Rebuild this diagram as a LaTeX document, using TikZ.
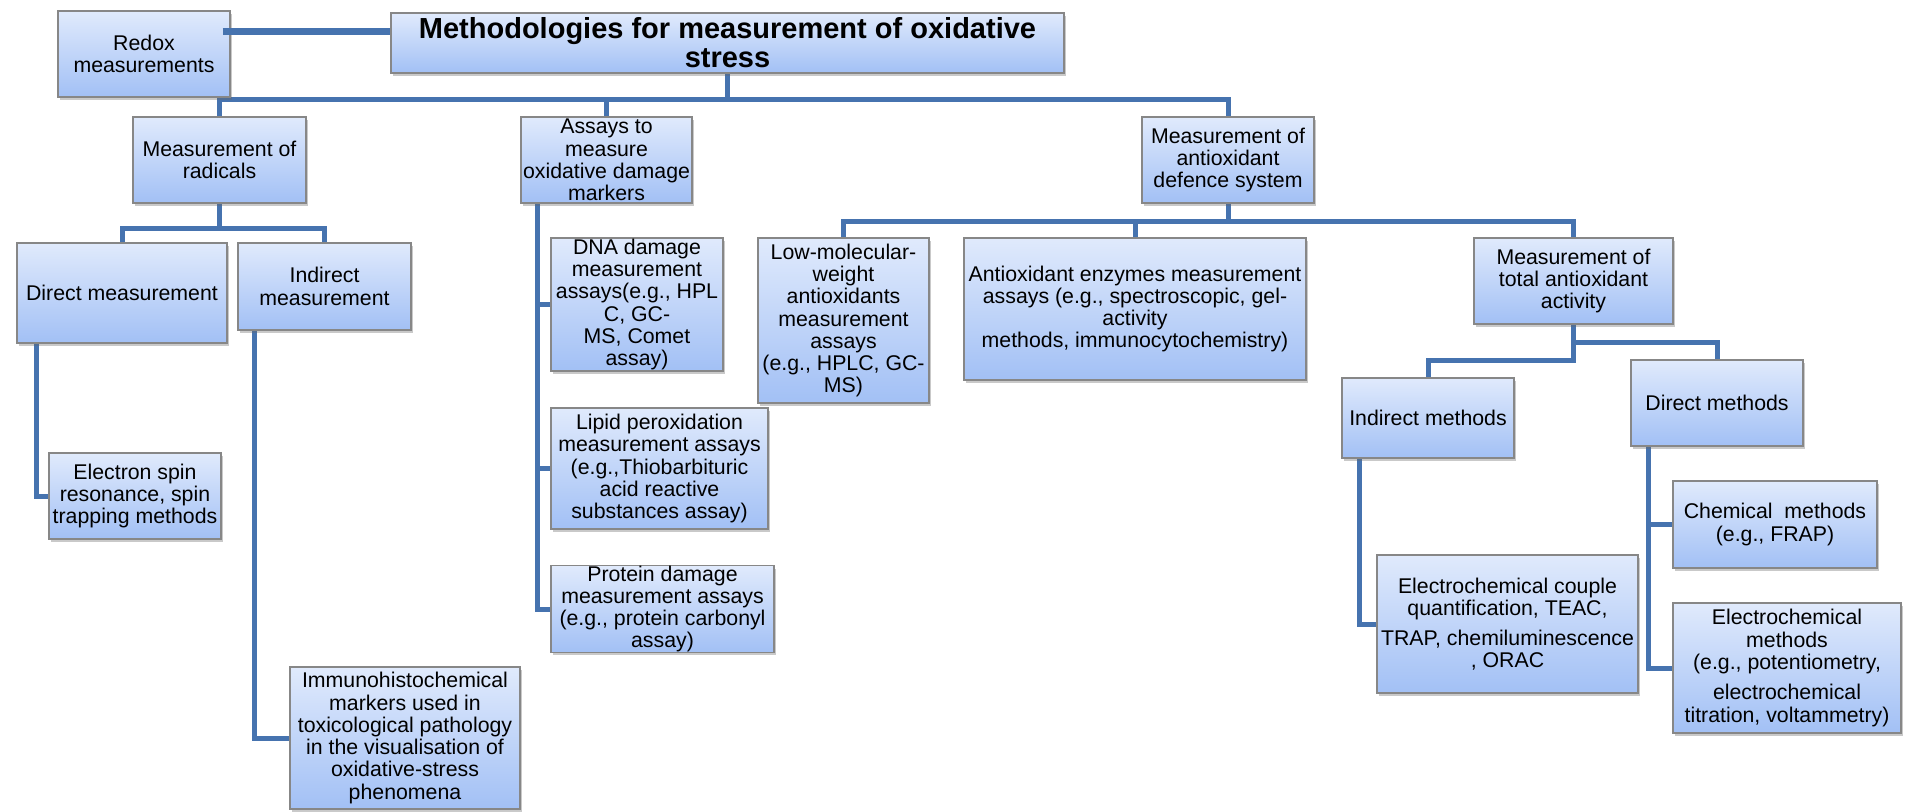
\documentclass[tikz,border=0pt]{standalone}
\usepackage{fontspec}
\setmainfont{Liberation Sans}
\usetikzlibrary{shadows,backgrounds}
\definecolor{linkblue}{RGB}{70,115,175}
\definecolor{boxtop}{RGB}{224,234,252}
\definecolor{boxbot}{RGB}{162,192,245}
\definecolor{boxline}{RGB}{135,135,135}
\begin{document}
\begin{tikzpicture}[x=1pt,y=-1pt,
  box/.style={draw=boxline, line width=1.2pt, top color=boxtop, bottom color=boxbot,
    inner sep=0pt, align=center, font=\fontsize{21.3}{22.3}\selectfont,
    drop shadow={shadow xshift=2pt, shadow yshift=-3pt, opacity=0.35, fill=black!60}},
  link/.style={draw=linkblue, line width=5pt}]
\useasboundingbox (0,0) rectangle (1905,811);

\node[box, minimum width=172pt, minimum height=86pt] (redox) at (144,54) {Redox\\measurements};
\node[box, font=\fontsize{29}{29}\selectfont\bfseries, minimum width=673pt, minimum height=60pt] (title) at (727.5,43) {Methodologies for measurement of oxidative\\stress};
\node[box, minimum width=173pt, minimum height=86pt] (radicals) at (219.5,160) {Measurement of\\radicals};
\node[box, minimum width=171pt, minimum height=86pt] (assays) at (606.5,160) {Assays to\\measure\\oxidative damage\\markers};
\node[box, minimum width=172pt, minimum height=86pt] (antiox) at (1228,160) {Measurement of\\antioxidant\\defence system};
\node[box, minimum width=210pt, minimum height=100pt] (direct) at (122,293) {Direct measurement};
\node[box, minimum width=173pt, minimum height=87pt] (indirect) at (324.5,286.5) {Indirect\\measurement};
\node[box, minimum width=172pt, minimum height=86pt] (electron) at (135,496) {Electron spin\\resonance, spin\\trapping methods};
\node[box, minimum width=230pt, minimum height=142pt] (immuno) at (405,738) {Immunohistochemical\\markers used in\\toxicological pathology\\in the visualisation of\\oxidative-stress\\phenomena};
\node[box, minimum width=172pt, minimum height=133pt] (dna) at (637,304.5) {DNA damage\\measurement\\assays(e.g., HPL\\C, GC-\\MS, Comet\\assay)};
\node[box, minimum width=217pt, minimum height=121pt] (lipid) at (659.5,468.5) {Lipid peroxidation\\measurement assays\\(e.g.,Thiobarbituric\\acid reactive\\substances assay)};
\node[box, minimum width=223pt, minimum height=86pt] (protein) at (662.5,609) {Protein damage\\measurement assays\\(e.g., protein carbonyl\\assay)};
\node[box, minimum width=171pt, minimum height=165pt] (lowmol) at (843.5,320.5) {Low-molecular-\\weight\\antioxidants\\measurement\\assays\\(e.g., HPLC, GC-\\MS)};
\node[box, minimum width=342pt, minimum height=142pt] (enz) at (1135,309) {Antioxidant enzymes measurement\\assays (e.g., spectroscopic, gel-\\activity\\methods, immunocytochemistry)};
\node[box, minimum width=199pt, minimum height=86pt] (total) at (1573.5,281) {Measurement of\\total antioxidant\\activity};
\node[box, minimum width=172pt, minimum height=80pt] (indm) at (1428,418) {Indirect methods};
\node[box, minimum width=172pt, minimum height=86pt] (dirm) at (1717,403) {Direct methods};
\node[box, minimum width=261pt, minimum height=138pt] (ecouple) at (1507.5,624) {Electrochemical couple\\quantification, TEAC,\\[7pt]TRAP, chemiluminescence\\, ORAC};
\node[box, minimum width=204pt, minimum height=87pt] (chem) at (1775,524.5) {Chemical\ \ methods\\(e.g., FRAP)};
\node[box, minimum width=228pt, minimum height=130pt] (electro) at (1787,668) {Electrochemical\\methods\\(e.g., potentiometry,\\[8pt]electrochemical\\titration, voltammetry)};

\coordinate (mb) at (0,99);
\coordinate (rb) at (0,228);
\coordinate (ab) at (0,221);
\coordinate (tb1) at (0,342);
\coordinate (tb2) at (0,360);

% link from Redox to title, drawn over the Redox box edge as in the original
\draw[link, line width=7pt] ([xshift=-8pt,yshift=23pt]redox.east) -- ([yshift=23pt]redox.east -| title.west);

\begin{pgfonlayer}{background}
\fill[white] (0,0) rectangle (1905,811);
\draw[link] (title.south) -- (title.south |- mb);
\draw[link] (radicals.north) -- (radicals.north |- mb) -- (antiox.north |- mb) -- (antiox.north);
\draw[link] (assays.north) -- (assays.north |- mb);
\draw[link] (radicals.south) -- (radicals.south |- rb);
\draw[link] (direct.north) -- (direct.north |- rb) -- (indirect.north |- rb) -- (indirect.north);
\draw[link] ([xshift=20pt]direct.south west) |- (electron.west);
\draw[link] ([xshift=17pt]indirect.south west) |- (immuno.west);
\draw[link] ([xshift=17pt]assays.south west) |- (protein.west);
\draw[link] ([xshift=17pt]assays.south west) |- (dna.west);
\draw[link] ([xshift=17pt]assays.south west) |- (lipid.west);
\draw[link] (antiox.south) -- (antiox.south |- ab);
\draw[link] (lowmol.north) -- (lowmol.north |- ab) -- (total.north |- ab) -- (total.north);
\draw[link] (enz.north) -- (enz.north |- ab);
\draw[link] (total.south) -- (total.south |- tb2) -- (indm.north |- tb2) -- (indm.north);
\draw[link] (total.south |- tb1) -- (dirm.north |- tb1) -- (dirm.north);
\draw[link] ([xshift=18pt]indm.south west) |- (ecouple.west);
\draw[link] ([xshift=18pt]dirm.south west) |- (chem.west);
\draw[link] ([xshift=18pt]dirm.south west) |- (electro.west);
\end{pgfonlayer}
\end{tikzpicture}
\end{document}
